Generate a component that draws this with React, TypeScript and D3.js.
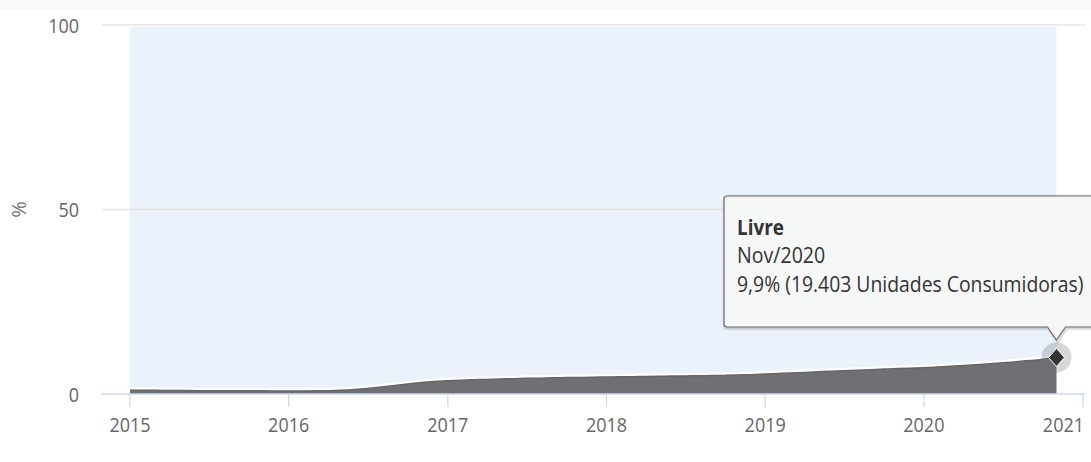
import React from "react";
import * as d3 from "d3";

// ---- data (share of "Livre" market, %) ----
const years = [2015, 2016, 2017, 2018, 2019, 2020];
const values2015 = [1.0, 1.0, 1.0, 0.95, 0.95, 0.9, 0.9, 0.9, 0.85, 0.85, 0.85, 0.8];
const values2016 = [0.8, 0.8, 0.85, 0.9, 1.0, 1.2, 1.5, 1.9, 2.3, 2.7, 3.1, 3.4];
const values2017 = [3.6, 3.75, 3.85, 3.95, 4.05, 4.15, 4.25, 4.3, 4.4, 4.45, 4.5, 4.55];
const values2018 = [4.6, 4.65, 4.7, 4.75, 4.8, 4.85, 4.9, 4.95, 5.0, 5.05, 5.15, 5.25];
const values2019 = [5.4, 5.55, 5.7, 5.85, 6.0, 6.15, 6.3, 6.45, 6.6, 6.75, 6.9, 7.0];
const values2020 = [7.1, 7.3, 7.5, 7.7, 7.95, 8.2, 8.45, 8.75, 9.05, 9.45, 9.9];
const valuesByYear = [values2015, values2016, values2017, values2018, values2019, values2020];

const yTicks = [0, 50, 100];
const xTickYears = [2015, 2016, 2017, 2018, 2019, 2020, 2021];

const seriesName = "Livre";
const tooltipDate = "Nov/2020";
const tooltipValue = "9,9% (19.403 Unidades Consumidoras)";
const yAxisTitle = "%";

type Pt = { date: Date; value: number };
const data: Pt[] = [];
years.forEach((y, yi) => {
  valuesByYear[yi].forEach((v, m) => data.push({ date: new Date(y, m, 1), value: v }));
});

const W = 1091;
const H = 462;
const FONT = "'Open Sans', sans-serif";

function SText(props: {
  x: number;
  y: number;
  sx: number;
  size: number;
  anchor?: string;
  weight?: string;
  fill: string;
  children: React.ReactNode;
}) {
  return (
    <text
      transform={`translate(${props.x},${props.y}) scale(${props.sx},1)`}
      textAnchor={props.anchor || "start"}
      fontSize={props.size}
      fontWeight={props.weight || "normal"}
      fill={props.fill}
    >
      {props.children}
    </text>
  );
}

export default function App() {
  const x = d3
    .scaleTime()
    .domain([new Date(2015, 0, 1), new Date(2021, 0, 1)])
    .range([130, 1083]);
  const y = d3.scaleLinear().domain([0, 100]).range([394, 25]);

  const plotLeft = 102;
  const plotRight = 1085;

  const area = d3
    .area<Pt>()
    .x((d) => x(d.date))
    .y0(y(0))
    .y1((d) => y(d.value))
    .curve(d3.curveMonotoneX);
  const line = d3
    .line<Pt>()
    .x((d) => x(d.date))
    .y((d) => y(d.value))
    .curve(d3.curveMonotoneX);

  const last = data[data.length - 1];
  const mx = x(last.date);
  const my = y(last.value);

  // tooltip geometry
  const tl = 724, tt = 196, tr = 1102, tb = 327;
  const tipX = mx, tipY = 340;
  const r = 3;
  const tooltipPath = [
    `M ${tl + r} ${tt}`,
    `L ${tr - r} ${tt}`,
    `Q ${tr} ${tt} ${tr} ${tt + r}`,
    `L ${tr} ${tb - r}`,
    `Q ${tr} ${tb} ${tr - r} ${tb}`,
    `L ${tipX + 9} ${tb}`,
    `L ${tipX} ${tipY}`,
    `L ${tipX - 9} ${tb}`,
    `L ${tl + r} ${tb}`,
    `Q ${tl} ${tb} ${tl} ${tb - r}`,
    `L ${tl} ${tt + r}`,
    `Q ${tl} ${tt} ${tl + r} ${tt}`,
    "Z",
  ].join(" ");

  const bandLeft = x(new Date(2015, 0, 1));
  const bandRight = mx;

  return (
    <svg
      width={W}
      height={H}
      style={{ position: "absolute", left: 0, top: 0, background: "#fff" }}
      fontFamily={FONT}
    >
      <rect x={0} y={0} width={W} height={10} fill="#f9f9f9" />
      {/* plot band */}
      <rect x={bandLeft} y={27} width={bandRight - bandLeft} height={y(0) - 27} fill="#ebf2fb" />
      {/* grid lines */}
      {yTicks
        .filter((t) => t !== 0)
        .map((t) => (
          <line key={t} x1={plotLeft} x2={plotRight} y1={y(t)} y2={y(t)} stroke="#e3e3e3" strokeWidth={1.5} />
        ))}
      {/* area */}
      <path d={line(data) || ""} fill="none" stroke="#ffffff" strokeWidth={3} transform="translate(0,-1.5)" opacity={0.9} />
      <path d={area(data) || ""} fill="#706f74" />
      <path d={line(data) || ""} fill="none" stroke="#66656a" strokeWidth={1.5} />
      {/* x axis */}
      <line x1={plotLeft} x2={plotRight} y1={y(0)} y2={y(0)} stroke="#ccd6eb" strokeWidth={1.5} />
      {xTickYears.map((yr, i) => {
        const px = x(new Date(yr, 0, 1));
        const isLast = i === xTickYears.length - 1;
        return (
          <g key={yr}>
            <line x1={px} x2={px} y1={y(0)} y2={y(0) + 13} stroke="#ccd6eb" strokeWidth={1.2} />
            <SText x={isLast ? px + 1 : px} y={432} sx={0.9} size={20} anchor={isLast ? "end" : "middle"} fill="#666666">
              {yr}
            </SText>
          </g>
        );
      })}
      {/* y axis labels */}
      {yTicks.map((t) => (
        <SText key={t} x={79} y={y(t) + 7.5} sx={0.9} size={20} anchor="end" fill="#666666">
          {t}
        </SText>
      ))}
      <text
        transform={`translate(26, ${y(50)}) rotate(-90)`}
        textAnchor="middle"
        fontSize={20}
        fill="#777777"
      >
        {yAxisTitle}
      </text>
      {/* hover halo and marker */}
      <circle cx={mx} cy={my} r={15} fill="#706f74" opacity={0.28} />
      <path d={`M ${mx} ${my - 9} L ${mx + 8} ${my} L ${mx} ${my + 9} L ${mx - 8} ${my} Z`} fill="#333336" stroke="#ffffff" strokeWidth={1} />
      {/* tooltip */}
      <path d={tooltipPath} fill="none" stroke="#000" strokeOpacity={0.05} strokeWidth={5} transform="translate(1,1)" />
      <path d={tooltipPath} fill="none" stroke="#000" strokeOpacity={0.1} strokeWidth={3} transform="translate(1,1)" />
      <path d={tooltipPath} fill="#f7f7f7" fillOpacity={0.95} stroke="#6a696e" strokeWidth={1.2} />
      <SText x={737} y={235} sx={0.86} size={22} weight="bold" fill="#333333">
        {seriesName}
      </SText>
      <SText x={737} y={263} sx={0.89} size={22} fill="#333333">
        {tooltipDate}
      </SText>
      <SText x={737} y={292} sx={0.88} size={22} fill="#333333">
        {tooltipValue}
      </SText>
    </svg>
  );
}
